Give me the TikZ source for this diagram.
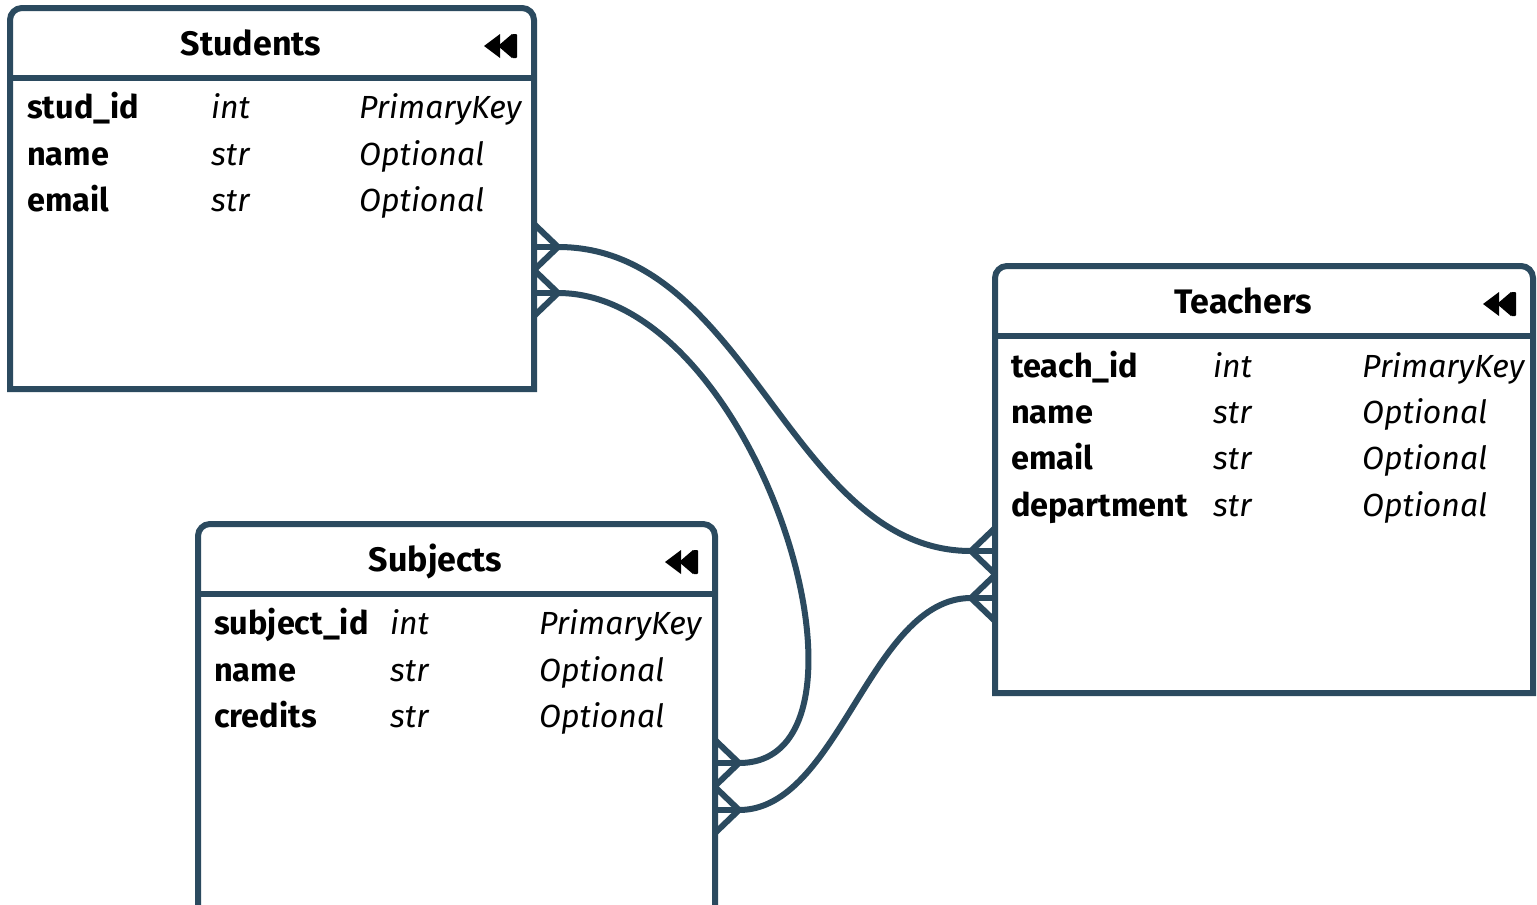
\documentclass[tikz,border=0pt]{standalone}
\usepackage{fontspec}
\setmainfont{Fira Sans}
\definecolor{erline}{HTML}{2B4A5F}

\tikzset{
  x=1pt, y=-1pt,
  tableline/.style={draw=erline, line width=6pt},
  tablebody/.style={rectangle, inner sep=0pt, outer sep=0pt, fill=white},
  titletext/.style={font=\fontsize{34}{40}\selectfont\bfseries, text=black, anchor=base, inner sep=0pt},
  fieldname/.style={font=\fontsize{32.5}{38}\selectfont\bfseries, text=black, anchor=base west, inner sep=0pt},
  fieldtype/.style={font=\fontsize{32}{38}\selectfont\itshape, text=black, anchor=base west, inner sep=0pt},
  link/.style={draw=erline, line width=6pt},
  pics/manyend/.style={code={
    \draw[link, line join=miter] (0,-23) -- (24,0) -- (0,23);
    \draw[link] (0,0) -- (24,0);
  }},
}

% table frame: name, left, top, right, bottom, title
\newcommand\ertable[6]{%
  \node[tablebody, minimum width={#4-#2}, minimum height={#5-#3}, anchor=north west] (#1) at (#2,#3) {};
  \draw[tableline] (#1.south west) -- ([yshift=-12pt]#1.north west)
    arc[start angle=180, end angle=90, radius=12pt]
    -- ([xshift=-12pt]#1.north east)
    arc[start angle=90, end angle=0, radius=12pt]
    -- (#1.south east) -- cycle;
  \draw[tableline] ([yshift=-70pt]#1.north west) -- ([yshift=-70pt]#1.north east);
  \node[titletext] (#1-title) at ([xshift=-21pt,yshift=-47pt]#1.north) {#6};
  \begin{scope}[shift={([xshift=-17pt,yshift=-38pt]#1.north east)}]
    \fill[black, rounded corners=0.8pt] (-5,-12) rectangle (0,12);
    \fill[black] (-5,-12) -- (-5,12) -- (-19,0) -- cycle;
    \fill[black] (-17,-12) -- (-17,12) -- (-33,0) -- cycle;
  \end{scope}
}

% one field row: prefix, baseline, x1, x2, x3, name, type, key
\newcommand\erfield[8]{%
  \node[fieldname] (#1a) at (#3,#2) {#6};
  \node[fieldtype] (#1b) at (#4,#2) {#7};
  \node[fieldtype] (#1c) at (#5,#2) {#8};
}

\begin{document}
\begin{tikzpicture}
  \useasboundingbox (0,0) rectangle (1537,905);
  \fill[white] (0,0) rectangle (1537,905);

  % Students
  \ertable{students}{10}{8}{534}{389}{Students}
  \erfield{s1}{118}{27}{211}{359}{stud\_id}{int}{PrimaryKey}
  \erfield{s2}{165}{27}{211}{359}{name}{str}{Optional}
  \erfield{s3}{211}{27}{211}{359}{email}{str}{Optional}

  % Teachers
  \ertable{teachers}{995}{266}{1533}{693}{Teachers}
  \erfield{t1}{377}{1011}{1213}{1362}{teach\_id}{int}{PrimaryKey}
  \erfield{t2}{423}{1011}{1213}{1362}{name}{str}{Optional}
  \erfield{t3}{469}{1011}{1213}{1362}{email}{str}{Optional}
  \erfield{t4}{516}{1011}{1213}{1362}{department}{str}{Optional}

  % Subjects
  \ertable{subjects}{198}{524}{715}{930}{Subjects}
  \erfield{j1}{634}{214}{390}{539}{subject\_id}{int}{PrimaryKey}
  \erfield{j2}{681}{214}{390}{539}{name}{str}{Optional}
  \erfield{j3}{727}{214}{390}{539}{credits}{str}{Optional}

  % attachment points on the table edges
  \coordinate (sA) at (students.east |- 0,247);
  \coordinate (sB) at (students.east |- 0,293);
  \coordinate (jA) at (subjects.east |- 0,763);
  \coordinate (jB) at (subjects.east |- 0,810);
  \coordinate (tA) at (teachers.west |- 0,551);
  \coordinate (tB) at (teachers.west |- 0,598);

  % crow's feet (many ends)
  \pic at (sA) {manyend};
  \pic at (sB) {manyend};
  \pic at (jA) {manyend};
  \pic at (jB) {manyend};
  \pic[xscale=-1] at (tA) {manyend};
  \pic[xscale=-1] at (tB) {manyend};

  % tips of the feet
  \coordinate (sAt) at ([xshift=24pt]sA);
  \coordinate (sBt) at ([xshift=24pt]sB);
  \coordinate (jAt) at ([xshift=24pt]jA);
  \coordinate (jBt) at ([xshift=24pt]jB);
  \coordinate (tAt) at ([xshift=-24pt]tA);
  \coordinate (tBt) at ([xshift=-24pt]tB);

  % relationships
  \draw[link] (sAt) .. controls +(191,0) and +(-181,0) .. (tAt);
  \draw[link] (sBt) .. controls +(201,0) and +(160,0) .. (jAt);
  \draw[link] (jBt) .. controls +(100,0) and +(-101,0) .. (tBt);
\end{tikzpicture}
\end{document}
